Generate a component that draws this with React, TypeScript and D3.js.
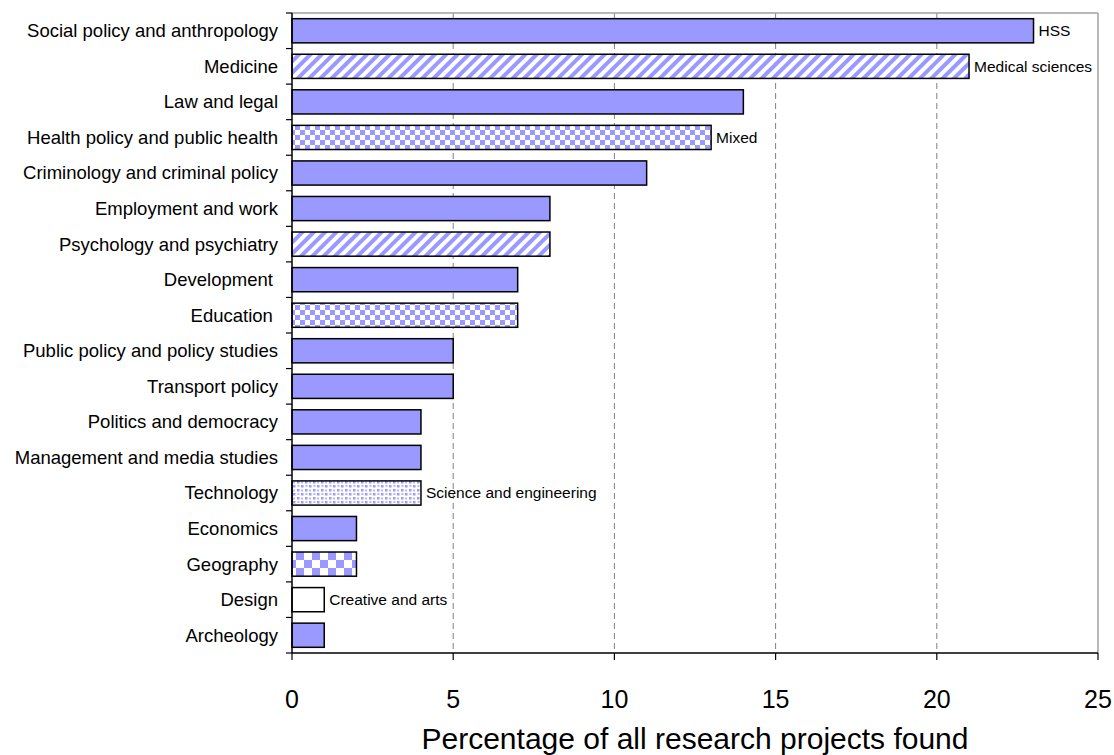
import React from "react";
import * as d3 from "d3";

const categories = [
  "Social policy and anthropology",
  "Medicine",
  "Law and legal",
  "Health policy and public health",
  "Criminology and criminal policy",
  "Employment and work",
  "Psychology and psychiatry",
  "Development ",
  "Education ",
  "Public policy and policy studies",
  "Transport policy",
  "Politics and democracy",
  "Management and media studies",
  "Technology",
  "Economics",
  "Geography",
  "Design",
  "Archeology",
];
const values = [23, 21, 14, 13, 11, 8, 8, 7, 7, 5, 5, 4, 4, 4, 2, 2, 1, 1];
const groups = [
  "hss", "med", "hss", "mixed", "hss", "hss", "med", "hss", "mixed",
  "hss", "hss", "hss", "hss", "sci", "hss", "geo", "arts", "hss",
];
const annotations: Record<string, string> = {
  "Social policy and anthropology": "HSS",
  Medicine: "Medical sciences",
  "Health policy and public health": "Mixed",
  Technology: "Science and engineering",
  Design: "Creative and arts",
};
const xTicks = [0, 5, 10, 15, 20, 25];

const W = 1114;
const H = 755;
const left = 292;
const right = 1098;
const top = 13;
const bottom = 653;

export default function App() {
  const x = d3.scaleLinear().domain([0, 25]).range([left, right]);
  const y = d3.scaleBand<string>().domain(categories).range([top, bottom]).paddingInner(0.32).paddingOuter(0.16);
  const fillFor = (g: string) => {
    switch (g) {
      case "med": return "url(#stripes)";
      case "mixed": return "url(#checkSmall)";
      case "geo": return "url(#checkBig)";
      case "sci": return "url(#dots)";
      case "arts": return "#ffffff";
      default: return "#9999ff";
    }
  };
  const step = (bottom - top) / categories.length;
  const blue = "#9999ff";
  return (
    <svg width={W} height={H} style={{ position: "absolute", left: 0, top: 0, display: "block", fontFamily: "Liberation Sans, Arial, sans-serif" }}>
      <defs>
        <pattern id="stripes" patternUnits="userSpaceOnUse" width="8" height="8" patternTransform="rotate(45)">
          <rect width="8" height="8" fill="#ffffff" />
          <rect width="4" height="8" fill={blue} />
        </pattern>
        <pattern id="checkSmall" patternUnits="userSpaceOnUse" width="10" height="10">
          <rect width="10" height="10" fill="#ffffff" />
          <rect width="5" height="5" fill={blue} />
          <rect x="5" y="5" width="5" height="5" fill={blue} />
        </pattern>
        <pattern id="checkBig" patternUnits="userSpaceOnUse" width="16" height="16">
          <rect width="16" height="16" fill="#ffffff" />
          <rect width="8" height="8" fill={blue} />
          <rect x="8" y="8" width="8" height="8" fill={blue} />
        </pattern>
        <pattern id="dots" patternUnits="userSpaceOnUse" width="8" height="8">
          <rect width="8" height="8" fill="#ffffff" />
          <rect x="1" y="1" width="2.5" height="2.5" fill={blue} />
          <rect x="5" y="5" width="2.5" height="2.5" fill={blue} />
          <rect x="5" y="1.5" width="2" height="2" fill="#b8b8ff" />
          <rect x="1.5" y="5" width="2" height="2" fill="#b8b8ff" />
        </pattern>
      </defs>
      <rect x={0} y={0} width={W} height={H} fill="#ffffff" />
      {xTicks.slice(1, -1).map((t) => (
        <line key={t} x1={x(t)} x2={x(t)} y1={top} y2={bottom} stroke="#808080" strokeDasharray="6,4" strokeWidth={1} />
      ))}
      <line x1={left} x2={right} y1={top} y2={top} stroke="#a0a0a0" strokeWidth={1.5} />
      <line x1={right} x2={right} y1={top} y2={bottom} stroke="#a0a0a0" strokeWidth={1.5} />
      {categories.map((c, i) => (
        <rect key={c} x={x(0)} y={y(c)!} width={x(values[i]) - x(0)} height={y.bandwidth()} fill={fillFor(groups[i])} stroke="#000" strokeWidth={1.5} />
      ))}
      {categories.map((c, i) =>
        annotations[c] ? (
          <text key={"a" + c} x={x(values[i]) + 5} y={y(c)! + y.bandwidth() / 2} dy="0.35em" fontSize={15.5} fill="#000">
            {annotations[c]}
          </text>
        ) : null
      )}
      <line x1={left} x2={left} y1={top} y2={bottom} stroke="#000" strokeWidth={1.5} />
      <line x1={left} x2={right} y1={bottom} y2={bottom} stroke="#000" strokeWidth={1.5} />
      {d3.range(categories.length + 1).map((i) => (
        <line key={"yt" + i} x1={left - 6} x2={left} y1={top + i * step} y2={top + i * step} stroke="#000" strokeWidth={1.2} />
      ))}
      {xTicks.map((t) => (
        <g key={"xt" + t}>
          <line x1={x(t)} x2={x(t)} y1={bottom} y2={bottom + 7} stroke="#000" strokeWidth={1.2} />
          <text x={x(t)} y={708} textAnchor="middle" fontSize={25} fill="#000">{t}</text>
        </g>
      ))}
      {categories.map((c) => (
        <text key={"l" + c} x={278} y={y(c)! + y.bandwidth() / 2} dy="0.35em" textAnchor="end" fontSize={18.5} fill="#000" style={{ whiteSpace: "pre" }}>
          {c}
        </text>
      ))}
      <text x={(left + right) / 2} y={749} textAnchor="middle" fontSize={30} fill="#000">
        Percentage of all research projects found
      </text>
    </svg>
  );
}
